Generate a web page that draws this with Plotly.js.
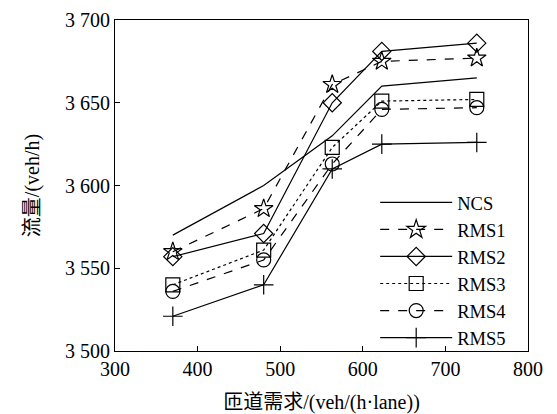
<!DOCTYPE html>
<html><head><meta charset="utf-8">
<script src="https://cdn.plot.ly/plotly-3.0.1.min.js"></script>
<style>html,body{margin:0;padding:0;background:#fff}</style>
</head><body>
<div id="chart" style="width:557px;height:414px"></div>
<script>
var demand = [370, 480, 563, 623, 738];
var NCS  = [3570, 3600, 3630, 3660, 3665];
var RMS1 = [3560, 3586, 3661, 3675, 3677];
var RMS2 = [3557, 3571, 3650, 3681, 3686];
var RMS3 = [3540, 3561, 3623, 3651, 3652];
var RMS4 = [3536, 3555, 3613, 3646, 3647];
var RMS5 = [3521, 3540, 3610, 3625, 3626];
var names = ['NCS','RMS1','RMS2','RMS3','RMS4','RMS5'];
var yTicks = [3500, 3550, 3600, 3650, 3700];
var xTicks = [300, 400, 500, 600, 700, 800];

var series = [NCS, RMS1, RMS2, RMS3, RMS4, RMS5];
var dashes = ['solid','dash','solid','dot','dash','solid'];
var symbols = [null,'star-open','diamond-open','square-open','circle-open','cross-thin-open'];
var traces = series.map(function(s,i){
  var t = {x: demand, y: s, name: names[i], type:'scatter',
    mode: symbols[i] ? 'lines+markers' : 'lines',
    line:{color:'#000', width:1.2, dash: dashes[i]}};
  if (symbols[i]) t.marker = {symbol: symbols[i], size: 14, color:'#000', line:{color:'#000', width:1.2}};
  return t;
});
var font = 'Liberation Serif, Times New Roman, Noto Sans CJK SC, serif';
var layout = {
  width:557, height:414,
  margin:{l:115, r:29, t:20, b:63},
  paper_bgcolor:'#fff', plot_bgcolor:'#fff',
  separators: '. ',
  font:{family: font, size:20, color:'#000'},
  showlegend:true,
  legend:{x:0.63, y:0.505, xanchor:'left', yanchor:'top', bgcolor:'rgba(255,255,255,0)',
    font:{family:font, size:18.5, color:'#000'}, itemwidth:72, tracegroupgap:0},
  xaxis:{range:[300,800], tickvals:xTicks, ticks:'inside', ticklen:5, tickcolor:'#000',
    showline:true, linecolor:'#000', linewidth:1, mirror:true, showgrid:false, zeroline:false,
    tickfont:{family:font, size:20},
    title:{text:'匝道需求/(veh/(h·lane))', font:{family:font, size:20}, standoff:15}},
  yaxis:{range:[3500,3700], tickvals:yTicks, tickformat:',d', ticks:'inside', ticklen:5, tickcolor:'#000',
    showline:true, linecolor:'#000', linewidth:1, mirror:true, showgrid:false, zeroline:false,
    tickfont:{family:font, size:20},
    title:{text:'流量/(veh/h)', font:{family:font, size:20}, standoff:20}}
};
Plotly.newPlot('chart', traces, layout, {staticPlot:true, displayModeBar:false});
</script>
</body></html>
